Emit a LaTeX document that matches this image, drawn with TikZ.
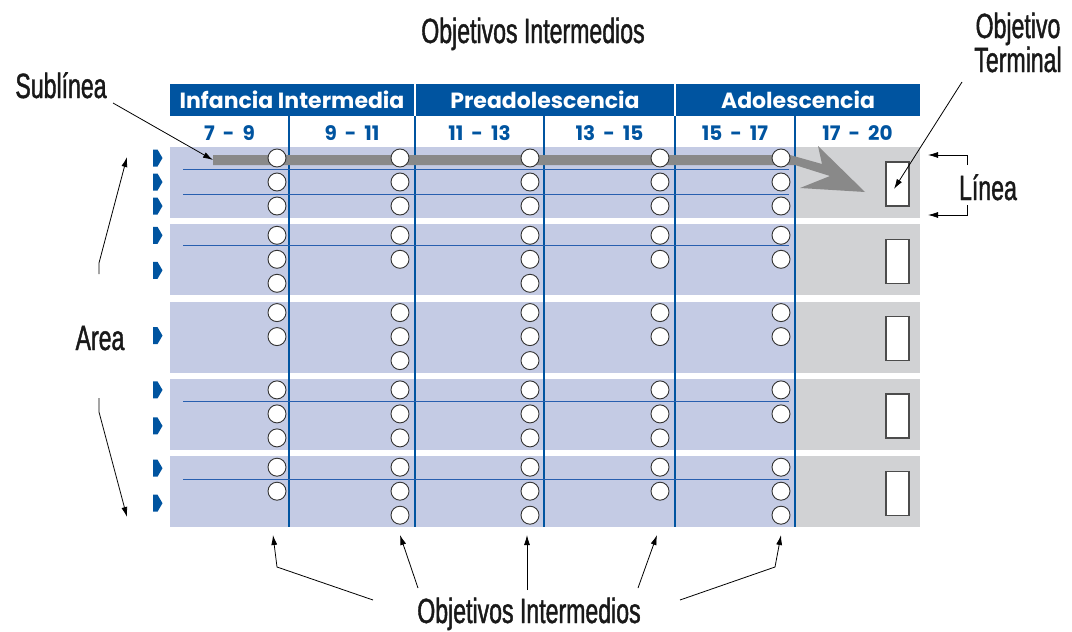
\documentclass[tikz,border=0pt]{standalone}
\usepackage{fontspec}
\setmainfont{Liberation Sans}
\newfontfamily\condfont[FakeStretch=0.66,FakeBold=1.2]{Liberation Sans}
\newfontfamily\headfont{Poppins}
\usetikzlibrary{arrows.meta}

\definecolor{headblue}{RGB}{0,84,160}
\definecolor{bandblue}{RGB}{196,203,228}
\definecolor{termgray}{RGB}{209,210,212}
\definecolor{bargray}{RGB}{137,137,137}
\definecolor{subblue}{RGB}{40,95,175}

\tikzset{
  stage/.style={fill=headblue,text=white,minimum height=32pt,inner sep=0pt,
    font=\headfont\bfseries\fontsize{22}{24}\selectfont},
  age/.style={text=headblue,inner sep=0pt,anchor=base,
    font=\headfont\bfseries\fontsize{20}{22}\selectfont},
  objcirc/.style={circle,draw=black!80,fill=white,line width=0.9pt,
    minimum size=18pt,inner sep=0pt},
  termbox/.style={draw=black!70,fill=white,line width=1.2pt,
    minimum width=23pt,minimum height=44pt,inner sep=0pt},
  annot/.style={inner sep=0pt,anchor=base,text=black!90,
    font=\condfont\fontsize{35}{36}\selectfont},
  pointer/.style={->,line width=0.8pt,black}
}

\begin{document}
\begin{tikzpicture}[x=1pt,y=-1pt,>={Latex[length=10pt,width=6pt]},thick]
\useasboundingbox (0,0) rectangle (1072,632);
\def\bh{71}
% areas
\foreach \k in {0,...,4}{
  \pgfmathsetmacro\yt{147+77.3*\k}
  \fill[bandblue] (170,\yt) rectangle (795,\yt+\bh);
  \fill[termgray] (795,\yt) rectangle (920,\yt+\bh);
}
% stages and ages
\node[stage,minimum width=244pt] (inf) at (292,100) {Infancia Intermedia};
\node[stage,minimum width=258pt] (pre) at (545,100) {Preadolescencia};
\node[stage,minimum width=244pt] (ado) at (798,100) {Adolescencia};
\foreach \x/\lo/\hi [count=\i] in {229.5/7/9,352/9/11,479.5/11/13,609.5/13/15,735/15/17,857.5/17/20}
  \node[age] (age\i) at (\x,140) {\lo\hspace{8pt}-\hspace{8pt}\hi};
\foreach \x/\w in {289/1.3pt,415/2.6pt,544/1.3pt,675/2.6pt,795/2.6pt}
  \draw[headblue,line width=\w] (\x,116) -- (\x,527);
% sublines
\foreach \k/\ys in {0/{22,47},1/{21},3/{23},4/{23}}{
  \foreach \d in \ys
    \draw[subblue,line width=0.9pt] (183,{147+77.3*\k+\d}) -- (789,{147+77.3*\k+\d});
}
% line markers
\foreach \k/\ys in {0/{11,35,59},1/{11,46},2/{34},3/{11,47},4/{12,47}}{
  \foreach \d in \ys
    \fill[headblue] (153,{147+77.3*\k+\d-8.5}) -- ++(4.5,0) -- ++(5,8.5) -- ++(-5,8.5) -- ++(-4.5,0) -- cycle;
}
% the subline arrow
\fill[bargray] (213,155) -- (790,155) -- (822,164) -- (818,146) -- (865,192)
  -- (800,188) -- (830,176) -- (795,165) -- (213,165) -- cycle;
% intermediate objectives
\foreach \k/\cols in {0/{277/3,400/3,530/3,660/3,781/3},1/{277/3,400/2,530/3,660/2,781/2},
    2/{277/2,400/3,530/3,660/2,781/2},3/{277/3,400/3,530/3,660/3,781/2},
    4/{277/2,400/3,530/3,660/2,781/3}}{
  \foreach \x/\n in \cols
    \foreach \r in {1,...,\n}
      \node[objcirc] (o-\k-\x-\r) at (\x,{147+77.3*\k+11+24*(\r-1)}) {};
}
% terminal objectives
\foreach \k in {0,...,4}
  \node[termbox] (t\k) at (897.5,{147+77.3*\k+37}) {};

% labels
\node[annot] (top) at (533,43) {Objetivos Intermedios};
\node[annot] (bottom) at (529,623) {Objetivos Intermedios};
\node[annot] (sub) at (61,98) {Sublínea};
\node[annot] (termA) at (1018,38) {Objetivo};
\node[annot] (termB) at (1018,72) {Terminal};
\node[annot] (linea) at (988,200) {Línea};
\node[annot] (area) at (100,350) {Area};

\coordinate (subtail) at (113,103);
\coordinate (subtip) at (213,160);
\draw[pointer] (subtail) -- (subtip);
\coordinate (termtail) at (962,82);
\coordinate (termtip) at (894,189);
\draw[pointer] (termtail) -- (termtip);
\coordinate (lntop) at (967,165);
\coordinate (lnbot) at (967,205);
\draw[pointer] (lntop) -- (967,155) -- (928,155);
\draw[pointer] (lnbot) -- (967,215) -- (928,215);
\coordinate (arup) at (99,274);
\coordinate (ardn) at (99,398);
\draw[pointer] (arup) -- (99,263) -- (127,157);
\draw[pointer] (ardn) -- (99,412) -- (127,517);
% pointers to the objectives
\draw[pointer] (373,600) -- (277,567) -- (273,535);
\draw[pointer] (418,588) -- (400,535);
\draw[pointer] (527,590) -- (527,535);
\draw[pointer] (638,588) -- (657,535);
\draw[pointer] (680,600) -- (775,567) -- (781,535);
\end{tikzpicture}
\end{document}
